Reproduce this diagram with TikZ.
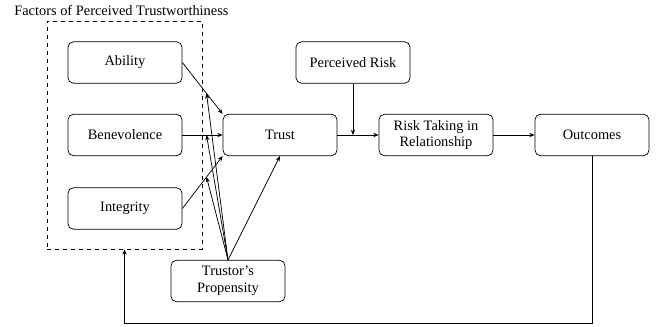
\documentclass[tikz,border=0pt]{standalone}
\usepackage{fontspec}
\setmainfont{Liberation Serif}
\usetikzlibrary{arrows.meta}
\begin{document}
\begin{tikzpicture}[x=0.75pt,y=-0.75pt,
  every node/.style={font=\fontsize{10.8}{12.5}\selectfont},
  box/.style={draw,rounded corners=4pt,minimum width=85.5pt,minimum height=31pt,align=center,inner sep=1pt,line width=0.55pt},
  conn/.style={line width=0.55pt,-{Stealth[length=4pt,width=3.2pt]}}]
\useasboundingbox (0,0) rectangle (665,326);
\node[anchor=base west,inner sep=0pt] (title) at (14,15) {Factors of Perceived Trustworthiness};
\node[draw,dashed,line width=0.55pt,minimum width=116.25pt,minimum height=171pt,inner sep=0pt] (grp) at (124.5,135) {};
\node[box] (ab) at (125,62.5) {Ability};
\node[box] (be) at (125,135) {Benevolence};
\node[box] (in) at (125,208.5) {Integrity};
\node[box] (tr) at (280,135) {Trust};
\node[box] (pr) at (353,62.5) {Perceived Risk};
\node[box] (rt) at (436,135) {Risk Taking in\\Relationship};
\node[box] (ou) at (592,135) {Outcomes};
\node[box] (tp) at (228,281) {Trustor’s\\Propensity};
\draw[conn] (ab.east) -- coordinate[pos=0.6] (m1) (tr.north west);
\draw[conn] (be.east) -- coordinate[pos=0.6] (m2) (tr.west);
\draw[conn] (in.east) -- coordinate[pos=0.6] (m3) (tr.south west);
\draw[conn] (tp.north) -- (m1);
\draw[conn] (tp.north) -- (m2);
\draw[conn] (tp.north) -- (m3);
\draw[conn] (tp.north) -- (tr.south);
\draw[conn] (tr.east) -- (rt.west);
\draw[conn] (pr.south) -- (pr.south |- tr.east);
\draw[conn] (rt.east) -- (ou.west);
\coordinate (fb) at (124.5,323);
\draw[conn] (ou.south) |- (fb) -- (grp.south);
\end{tikzpicture}
\end{document}
